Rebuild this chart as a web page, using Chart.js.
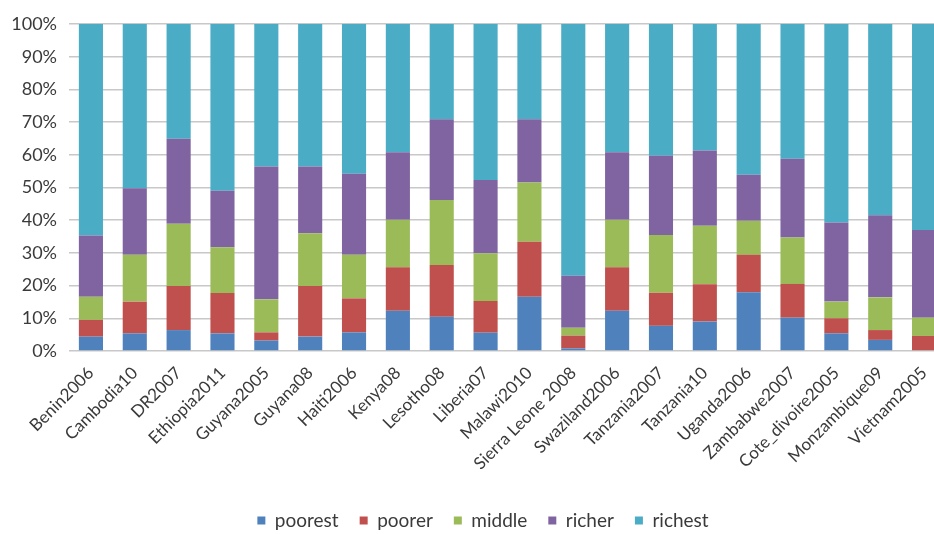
<!DOCTYPE html>
<html>
<head>
<meta charset="utf-8">
<script src="https://cdn.jsdelivr.net/npm/chart.js@4/dist/chart.umd.min.js"></script>
<style>
  html, body { margin: 0; padding: 0; background: #ffffff; overflow: hidden; }
  #wrap { width: 950px; height: 534px; }
</style>
</head>
<body>
<div id="wrap"><canvas id="chart" width="950" height="534"></canvas></div>
<script>
// Survey / wealth quintile shares per country (percent of total)
const categories = [
  'Benin2006', 'Cambodia10', 'DR2007', 'Ethiopia2011', 'Guyana2005', 'Guyana08',
  'Haiti2006', 'Kenya08', 'Lesotho08', 'Liberia07', 'Malawi2010', 'Sierra Leone 2008',
  'Swaziland2006', 'Tanzania2007', 'Tanzania10', 'Uganda2006', 'Zambabwe2007',
  'Cote_divoire2005', 'Monzambique09', 'Vietnam2005'
];
const poorest = [4.4, 5.4, 6.4, 5.4, 3.2, 4.4, 5.7, 12.3, 10.5, 5.6, 16.6, 0.8, 12.3, 7.7, 9.0, 18.0, 10.2, 5.4, 3.4, 0.0];
const poorer  = [5.1, 9.7, 13.5, 12.3, 2.5, 15.5, 10.4, 13.3, 15.8, 9.7, 16.8, 3.9, 13.3, 10.1, 11.4, 11.4, 10.3, 4.6, 3.0, 4.6];
const middle  = [7.1, 14.3, 19.0, 14.0, 10.1, 16.1, 13.3, 14.5, 19.9, 14.6, 18.1, 2.4, 14.5, 17.7, 17.9, 10.4, 14.2, 5.1, 10.0, 5.6];
const richer  = [18.7, 20.4, 26.0, 17.3, 40.6, 20.4, 24.8, 20.7, 24.7, 22.4, 19.4, 15.9, 20.7, 24.2, 23.0, 14.1, 24.1, 24.2, 25.1, 26.8];
const richest = [64.7, 50.2, 35.1, 51.0, 43.6, 43.6, 45.8, 39.2, 29.1, 47.7, 29.1, 77.0, 39.2, 40.3, 38.7, 46.1, 41.2, 60.7, 58.5, 63.0];
const yTicks = [0, 10, 20, 30, 40, 50, 60, 70, 80, 90, 100];

const seriesNames = ['poorest', 'poorer', 'middle', 'richer', 'richest'];
const seriesValues = [poorest, poorer, middle, richer, richest];
const seriesColors = ['#4F81BD', '#C0504D', '#9BBB59', '#8064A2', '#4BACC6'];

const FONT = 'Lato, "Liberation Sans", sans-serif';
const TEXT = '#3a3a3a';

// Nudge the legend box sideways so it sits under the middle of the visible plot
const legendOffset = {
  id: 'legendOffset',
  afterLayout(chart) {
    const lg = chart.legend;
    if (lg) { lg.left += 10; lg.right += 10; }
  }
};

new Chart(document.getElementById('chart'), {
  type: 'bar',
  data: {
    labels: categories,
    datasets: seriesNames.map((name, i) => ({
      label: name,
      data: seriesValues[i],
      backgroundColor: seriesColors[i],
      borderWidth: 0,
      barPercentage: 0.55,
      categoryPercentage: 1.0
    }))
  },
  plugins: [legendOffset],
  options: {
    responsive: false,
    animation: false,
    layout: { padding: { top: 24, right: 4, left: 0, bottom: -6 } },
    plugins: {
      tooltip: { enabled: false },
      legend: {
        position: 'bottom',
        labels: {
          boxWidth: 8,
          boxHeight: 8,
          padding: 21,
          color: TEXT,
          font: { family: FONT, size: 19 }
        }
      }
    },
    scales: {
      x: {
        stacked: true,
        grid: { display: false },
        border: { display: false },
        ticks: {
          autoSkip: false,
          minRotation: 45,
          maxRotation: 45,
          padding: 4,
          color: TEXT,
          font: { family: FONT, size: 17 }
        },
        afterFit(scale) { scale.height = 139; }
      },
      y: {
        stacked: true,
        min: 0,
        max: 100,
        afterBuildTicks(scale) { scale.ticks = yTicks.map(v => ({ value: v })); },
        grid: { color: '#C8C8C8', lineWidth: 1.5, drawTicks: false },
        border: { display: false },
        ticks: {
          padding: 12,
          color: TEXT,
          font: { family: FONT, size: 18 },
          callback: v => v + '%'
        },
        afterFit(scale) { scale.width = 69; }
      }
    }
  }
});
</script>
</body>
</html>
